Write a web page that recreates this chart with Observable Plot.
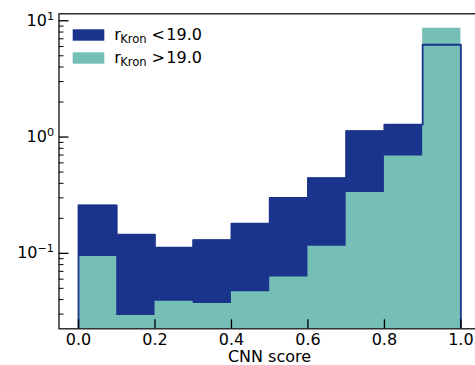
<!DOCTYPE html>
<html><head><meta charset="utf-8">
<script src="https://cdn.jsdelivr.net/npm/d3@7"></script>
<script src="https://cdn.jsdelivr.net/npm/@observablehq/plot@0.6"></script>
<style>html,body{margin:0;padding:0;background:#fff;overflow:hidden}</style>
</head><body><div id="chart"></div>
<script>
// ---- data ----
const binEdges = [0.0, 0.1, 0.2, 0.3, 0.4, 0.5, 0.6, 0.7, 0.8, 0.9, 1.0];
const brightValues = [0.259, 0.145, 0.112, 0.130, 0.180, 0.299, 0.444, 1.126, 1.278, 6.22];
const faintValues  = [0.0939, 0.0292, 0.0388, 0.0371, 0.0468, 0.0627, 0.115, 0.333, 0.687, 8.63];
const legendSubscript = "Kron";
const legendRelations = ["<", ">"];
const legendThreshold = "19.0";
const xTickValues = [0.0, 0.2, 0.4, 0.6, 0.8, 1.0];
const xTickLabels = ["0.0", "0.2", "0.4", "0.6", "0.8", "1.0"];
const yMajorTicks = [0.1, 1, 10];
const yExponents = ["\u22121", "0", "1"];
const yMinorTicks = [0.03,0.04,0.05,0.06,0.07,0.08,0.09,0.2,0.3,0.4,0.5,0.6,0.7,0.8,0.9,2,3,4,5,6,7,8,9];
const xLabel = "CNN score";
const yDomain = [0.02244, 11.48];
const xDomain = [-0.051, 1.05];

const darkColor = "#1b348b";
const tealColor = "#75bfb7";

function stepPoints(values) {
  const pts = values.map((v, i) => ({x: binEdges[i], y: v}));
  pts.push({x: binEdges[binEdges.length - 1], y: values[values.length - 1]});
  return pts;
}
const brightPts = stepPoints(brightValues);
const faintPts = stepPoints(faintValues);
const outlinePts = [{x: binEdges[0], y: yDomain[0]}, ...brightPts, {x: binEdges[binEdges.length - 1], y: yDomain[0]}];

const plot = Plot.plot({
  width: 475,
  height: 365,
  marginLeft: 58.5,
  marginRight: -4.5,
  marginTop: 13.3,
  marginBottom: 36.7,
  style: {fontFamily: "DejaVu Sans", fontSize: "16px", color: "#000", background: "#fff"},
  x: {domain: xDomain, label: null},
  y: {type: "log", domain: yDomain, label: null},
  marks: [
    Plot.areaY(brightPts, {x: "x", y1: yDomain[0], y2: "y", curve: "step-after", fill: darkColor, clip: true}),
    Plot.areaY(faintPts, {x: "x", y1: yDomain[0], y2: "y", curve: "step-after", fill: tealColor, clip: true}),
    Plot.line(outlinePts, {x: "x", y: "y", curve: "step-after", stroke: darkColor, strokeWidth: 1.8, clip: true}),
    // ticks (inward)
    Plot.axisX(xTickValues, {tickSize: -9, fill: "none", strokeWidth: 1.3, stroke: "#000", label: null}),
    Plot.axisX(xTickValues, {tickSize: 0, tickPadding: 5, tickFormat: d => xTickLabels[xTickValues.indexOf(d)], fill: "#000", label: null}),
    Plot.axisY(yMajorTicks, {tickSize: -10, fill: "none", strokeWidth: 1.3, stroke: "#000", label: null}),
    Plot.axisY(yMinorTicks, {tickSize: -5, fill: "none", strokeWidth: 1, stroke: "#000", label: null}),
    Plot.axisY(yMajorTicks, {tickSize: 0, tickPadding: 5, tickFormat: d => "10^" + yExponents[yMajorTicks.indexOf(d)], fill: "#000", label: null}),
    Plot.frame({stroke: "#111", strokeWidth: 1.3}),
    Plot.text([xLabel], {frameAnchor: "bottom", lineAnchor: "top", dy: 21.5, fill: "#000", fontSize: 16})
  ]
});

const svg = d3.select(plot);
// superscript exponents on y tick labels
svg.selectAll("text").each(function() {
  const t = this.textContent;
  if (t.startsWith("10^")) {
    const exp = t.slice(3);
    const sel = d3.select(this);
    sel.text("10");
    sel.append("tspan").attr("dy", "-6").attr("font-size", "11.2px").text(exp);
  }
});

// legend
const leg = svg.append("g").attr("font-family", "DejaVu Sans").attr("fill", "#000").attr("text-anchor", "start");
const colors = [darkColor, tealColor];
legendRelations.forEach((rel, i) => {
  const y0 = 29.3 + i * 23;
  leg.append("rect").attr("x", 72.7).attr("y", y0).attr("width", 31.6).attr("height", 11.4).attr("fill", colors[i]);
  const base = 40 + i * 23.3;
  leg.append("text").attr("x", 114.3).attr("y", base).attr("font-size", "16px").text("r");
  leg.append("text").attr("x", 120.3).attr("y", base + 2.8).attr("font-size", "11.5px").text(legendSubscript);
  leg.append("text").attr("x", 151.5).attr("y", base).attr("font-size", "16px").text(rel);
  leg.append("text").attr("x", 166.3).attr("y", base).attr("font-size", "16px").text(legendThreshold);
});

document.getElementById("chart").appendChild(plot);
</script>
</body></html>
